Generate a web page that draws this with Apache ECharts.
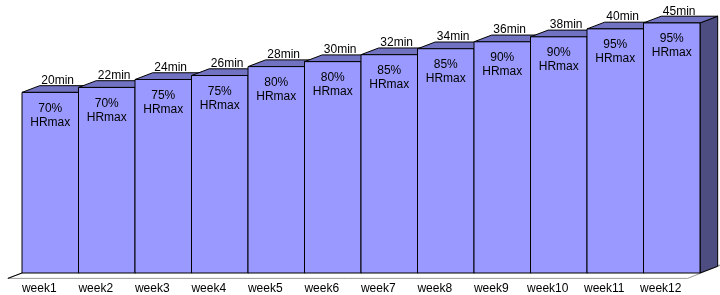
<!DOCTYPE html>
<html>
<head>
<meta charset="utf-8">
<script src="https://cdn.jsdelivr.net/npm/echarts@6/dist/echarts.min.js"></script>
<style>
  html, body { margin: 0; padding: 0; background: #ffffff; }
  #chart { width: 720px; height: 295px; }
</style>
</head>
<body>
<div id="chart"></div>
<script>
// ---- data ----
const categories = ['week1','week2','week3','week4','week5','week6','week7','week8','week9','week10','week11','week12'];
// bar heights (front face, arbitrary value units)
const barValues = [182, 187, 195, 199, 208, 213, 220, 226, 233, 238, 246, 252];
const durationLabels = ['20min','22min','24min','26min','28min','30min','32min','34min','36min','38min','40min','45min'];
const intensityLabels = ['70%','70%','75%','75%','80%','80%','85%','85%','90%','90%','95%','95%'];

// ---- style ----
const FONT = 'Arial, "Liberation Sans", sans-serif';
const FRONT = '#9999FF';
const TOP = '#7272C2';
const SIDE = '#4D4D82';
const EDGE = '#000000';
const DEPTH_X = 0.313;   // depth offset as fraction of band width
const DEPTH_SLOPE = 0.38; // vertical rise per horizontal depth

const chart = echarts.init(document.getElementById('chart'), null, { renderer: 'canvas' });

function barItem(params, api) {
  const i = api.value(0);
  const v = api.value(1);
  const base = api.coord([i, 0]);
  const top = api.coord([i, v]);
  const bw = api.size([1, 0])[0];
  const xL = base[0] - bw / 2, xR = xL + bw;
  const yB = base[1], yT = top[1];
  const dx = bw * DEPTH_X, dy = -dx * DEPTH_SLOPE;
  const cx = (xL + xR) / 2;
  const lineStyle = { stroke: EDGE, lineWidth: 1 };
  return {
    type: 'group',
    children: [
      { type: 'polygon', shape: { points: [[xR, yT], [xR + dx, yT + dy], [xR + dx, yB + dy], [xR, yB]] },
        style: Object.assign({ fill: SIDE }, lineStyle) },
      { type: 'polygon', shape: { points: [[xL, yT], [xL + dx, yT + dy], [xR + dx, yT + dy], [xR, yT]] },
        style: Object.assign({ fill: TOP }, lineStyle) },
      { type: 'rect', shape: { x: xL, y: yT, width: bw, height: yB - yT },
        style: Object.assign({ fill: FRONT }, lineStyle) },
      { type: 'text', x: cx + dx * 0.42, y: yT + dy - 5,
        style: { text: durationLabels[i], fill: '#000', font: '12px ' + FONT, align: 'center', verticalAlign: 'middle' } },
      { type: 'text', x: cx, y: yT + 23,
        style: { text: intensityLabels[i] + '\nHRmax', fill: '#000', font: '12px ' + FONT, lineHeight: 14, align: 'center', verticalAlign: 'middle' } }
    ]
  };
}

function floorItem(params, api) {
  const first = api.coord([0, 0]);
  const last = api.coord([categories.length - 1, 0]);
  const bw = api.size([1, 0])[0];
  const xL = first[0] - bw / 2, xR = last[0] + bw / 2;
  const yB = first[1];
  const dx = bw * DEPTH_X, dy = -dx * DEPTH_SLOPE;
  return {
    type: 'group',
    children: [
      { type: 'polygon',
        shape: { points: [[xL - 0.8 * dx, yB - 0.8 * dy], [xR - 0.7 * dx, yB - 0.8 * dy], [xR + 1.15 * dx, yB + 1.15 * dy], [xL + 1.15 * dx, yB + 1.15 * dy]] },
        style: { fill: '#ffffff', stroke: '#9a9a9a', lineWidth: 1 } },
      { type: 'line',
        shape: { x1: xL - 0.8 * dx, y1: yB - 0.8 * dy, x2: xL, y2: yB },
        style: { stroke: '#000', lineWidth: 1 } }
    ]
  };
}

chart.setOption({
  animation: false,
  backgroundColor: '#ffffff',
  grid: { left: 22, right: 20, top: 15, bottom: 20 },
  xAxis: {
    type: 'category',
    data: categories,
    boundaryGap: true,
    axisLine: { show: false },
    axisTick: { show: false },
    axisLabel: { interval: 0, color: '#000', fontFamily: FONT, fontSize: 12, margin: 10, padding: [0, 22, 0, 0] }
  },
  yAxis: { type: 'value', min: 0, max: 260, show: false, splitLine: { show: false } },
  series: [
    { type: 'custom', renderItem: floorItem, data: [[0, 0]], z: 1, silent: true,
      encode: { x: 0, y: 1 } },
    { type: 'custom', renderItem: barItem, z: 2,
      data: barValues.map((v, i) => [i, v]), encode: { x: 0, y: 1 } }
  ]
});
</script>
</body>
</html>
